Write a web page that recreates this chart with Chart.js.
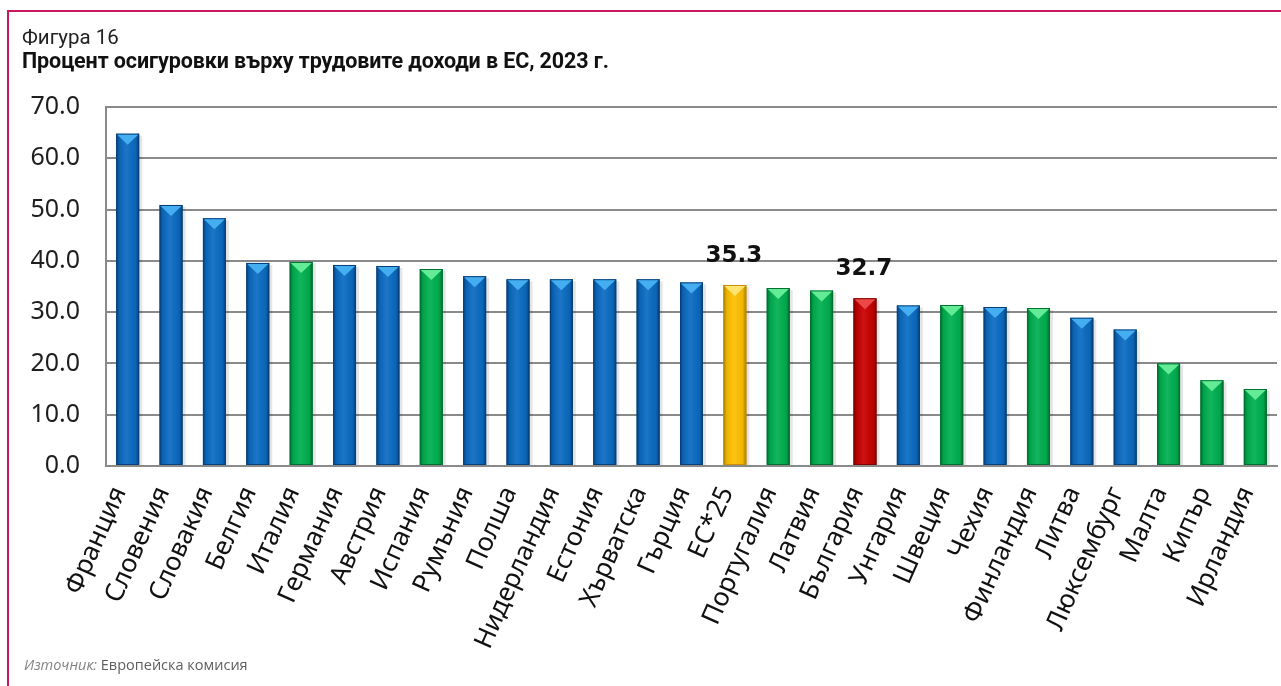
<!DOCTYPE html>
<html lang="bg">
<head>
<meta charset="utf-8">
<title>Процент осигуровки върху трудовите доходи в ЕС, 2023 г.</title>
<script src="https://cdn.jsdelivr.net/npm/chart.js@4/dist/chart.umd.min.js"></script>
<style>
  html, body { margin: 0; padding: 0; background: #ffffff; }
  body { width: 1281px; height: 686px; position: relative; overflow: hidden; }
  #frame { position: absolute; left: 7px; top: 10px; right: -2px; bottom: -2px;
           border-left: 2px solid #c8195e; border-top: 2px solid #c8195e; }
  #chart { position: absolute; left: 0; top: 0; }
  .fig { position: absolute; left: 22px; top: 25px; font: 20.5px Roboto, "Noto Sans", sans-serif; color: #222; }
  .ttl { position: absolute; left: 22px; top: 48px; font: bold 21.5px Roboto, "Noto Sans", sans-serif; color: #111; letter-spacing: -0.1px; }
  .src { position: absolute; left: 24px; top: 655px; font: 14.5px "Open Sans", sans-serif; color: #5e5e5e; }
  .src i { color: #848484; }
</style>
</head>
<body>
<div id="frame"></div>
<canvas id="chart" width="1281" height="686"></canvas>
<div class="fig">Фигура 16</div>
<div class="ttl">Процент осигуровки върху трудовите доходи в ЕС, 2023 г.</div>
<div class="src"><i>Източник:</i> Европейска комисия</div>
<script>
// Countries, in order of the rate
const countries = ["Франция", "Словения", "Словакия", "Белгия", "Италия", "Германия", "Австрия",
  "Испания", "Румъния", "Полша", "Нидерландия", "Естония", "Хърватска", "Гърция", "ЕС*25",
  "Португалия", "Латвия", "България", "Унгария", "Швеция", "Чехия", "Финландия", "Литва",
  "Люксембург", "Малта", "Кипър", "Ирландия"];

// Rate of social contributions on labour income, %
const rates = [64.8, 50.9, 48.3, 39.6, 39.8, 39.2, 39.0, 38.4, 37.0, 36.4, 36.4, 36.4, 36.4,
  35.8, 35.3, 34.7, 34.2, 32.7, 31.3, 31.4, 31.0, 30.8, 28.9, 26.6, 20.0, 16.7, 15.0];

// Colour group of every bar: b = blue, g = green, y = EU average, r = Bulgaria
const groups = ["b", "b", "b", "b", "g", "b", "b", "g", "b", "b", "b", "b", "b", "b", "y",
  "g", "g", "r", "b", "g", "b", "g", "b", "b", "g", "g", "g"];

// Bars that carry a value label
const labelled = ["ЕС*25", "България"];

// Y axis ticks
const yTicks = [0, 10, 20, 30, 40, 50, 60, 70];

const palette = {
  b: { fill: "#0b6bc2", edge: "#073f7a", bevel: "#45aef0" },
  g: { fill: "#00b050", edge: "#006f30", bevel: "#63ec95" },
  y: { fill: "#ffc000", edge: "#c88f00", bevel: "#ffe46e" },
  r: { fill: "#c80000", edge: "#7e0000", bevel: "#ec4848" }
};

// Bevelled look: shaded edges and a light wedge on top of every bar
const bevelPlugin = {
  id: "bevel",
  beforeDatasetDraw(chart, args) {
    // soft drop shadow behind the bars
    const ctx = chart.ctx;
    ctx.save();
    ctx.fillStyle = "rgba(0,0,0,0.10)";
    args.meta.data.forEach(bar => {
      const p = bar.getProps(["x", "y", "base", "width"], true);
      ctx.fillRect(p.x - p.width / 2 + 2, p.y + 2, p.width + 1, p.base - p.y - 2);
    });
    ctx.restore();
  },
  afterDatasetDraw(chart, args) {
    const ctx = chart.ctx;
    args.meta.data.forEach((bar, i) => {
      const p = bar.getProps(["x", "y", "base", "width"], true);
      const c = palette[groups[i]];
      const l = p.x - p.width / 2, r = p.x + p.width / 2;
      ctx.save();
      const g = ctx.createLinearGradient(l, 0, r, 0);
      g.addColorStop(0, "rgba(0,0,0,0.38)");
      g.addColorStop(0.14, "rgba(0,0,0,0.08)");
      g.addColorStop(0.45, "rgba(255,255,255,0.07)");
      g.addColorStop(0.84, "rgba(0,0,0,0.05)");
      g.addColorStop(1, "rgba(0,0,0,0.40)");
      ctx.fillStyle = g;
      ctx.fillRect(l, p.y, p.width, p.base - p.y);
      ctx.strokeStyle = c.edge;
      ctx.lineWidth = 1;
      ctx.strokeRect(l + 0.5, p.y + 0.5, p.width - 1, p.base - p.y - 1);
      const depth = Math.min(11, (p.base - p.y) / 2);
      ctx.beginPath();
      ctx.moveTo(l + 1, p.y + 1);
      ctx.lineTo(r - 1, p.y + 1);
      ctx.lineTo(p.x, p.y + depth);
      ctx.closePath();
      ctx.fillStyle = c.bevel;
      ctx.fill();
      ctx.restore();
    });
  }
};

// Value labels above selected bars
const valueLabels = {
  id: "valueLabels",
  afterDatasetsDraw(chart) {
    const ctx = chart.ctx;
    const meta = chart.getDatasetMeta(0);
    ctx.save();
    ctx.font = "bold 23px 'DejaVu Sans', sans-serif";
    ctx.fillStyle = "#111";
    ctx.textAlign = "center";
    ctx.textBaseline = "alphabetic";
    labelled.forEach(name => {
      const i = countries.indexOf(name);
      const bar = meta.data[i];
      ctx.fillText(rates[i].toFixed(1), bar.x - 1, bar.y - 23);
    });
    ctx.restore();
  }
};

new Chart(document.getElementById("chart"), {
  type: "bar",
  data: {
    labels: countries,
    datasets: [{
      data: rates,
      backgroundColor: groups.map(k => palette[k].fill),
      borderWidth: 0,
      categoryPercentage: 1,
      barPercentage: 0.53
    }]
  },
  options: {
    responsive: false,
    animation: false,
    events: [],
    layout: { padding: { top: 107, right: 4, left: 0, bottom: 0 } },
    plugins: { legend: { display: false }, tooltip: { enabled: false }, title: { display: false } },
    scales: {
      x: {
        grid: { display: false, drawTicks: false },
        border: { display: true, color: "#8a8a8a", width: 2 },
        ticks: {
          autoSkip: false,
          minRotation: 66,
          maxRotation: 66,
          padding: 16,
          labelOffset: -8,
          color: "#111",
          font: { family: "'Noto Sans', sans-serif", size: 26 }
        },
        afterFit(scale) {
          scale.height = 220;
          scale.paddingLeft = 0;
          scale.paddingRight = 0;
        }
      },
      y: {
        min: 0,
        max: 70,
        afterBuildTicks(scale) { scale.ticks = yTicks.map(v => ({ value: v })); },
        grid: { color: "#8a8a8a", lineWidth: 2, drawTicks: false },
        border: { display: true, color: "#8a8a8a", width: 2 },
        ticks: {
          padding: 26,
          color: "#1e1e1e",
          font: { family: "'Noto Sans', sans-serif", size: 25 },
          callback: v => Number(v).toFixed(1)
        },
        afterFit(scale) { scale.width = 106; }
      }
    }
  },
  plugins: [bevelPlugin, valueLabels]
});
</script>
</body>
</html>
